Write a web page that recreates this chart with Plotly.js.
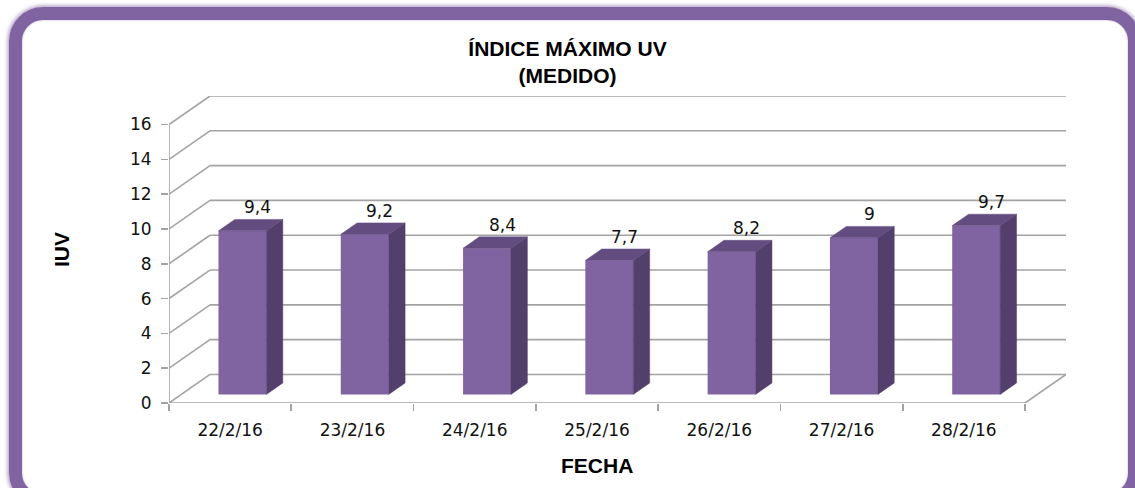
<!DOCTYPE html>
<html>
<head>
<meta charset="utf-8">
<script src="https://cdn.plot.ly/plotly-3.0.1.min.js"></script>
<style>
html, body { margin:0; padding:0; overflow:hidden; background:#ffffff; width:1135px; height:488px; }
#frame { position:absolute; left:9px; top:7px; width:1132px; height:500px; box-sizing:border-box;
  border:13px solid #8064A2; border-radius:34px;
  box-shadow:0 0 4px 1px rgba(128,100,162,0.75), inset 0 0 2px rgba(128,100,162,0.6); }
#chart { position:absolute; left:0; top:0; width:1135px; height:488px; }
</style>
</head>
<body>
<div id="frame"></div>
<div id="chart"></div>
<script>
// ---- data ----
const dates = ['22/2/16', '23/2/16', '24/2/16', '25/2/16', '26/2/16', '27/2/16', '28/2/16'];
const iuv = [9.4, 9.2, 8.4, 7.7, 8.2, 9, 9.7];
const yTicks = [0, 2, 4, 6, 8, 10, 12, 14, 16];
const chartTitle = 'ÍNDICE MÁXIMO UV<br>(MEDIDO)';
const yTitle = 'IUV';
const xTitle = 'FECHA';

// ---- 3D styling constants ----
const D = 0.335;   // depth along x (category units)
const H = 1.64;    // depth along y (value units)
const F1 = 0.3, F2 = 0.7; // bar front/back depth fractions
const W = 0.392;   // bar width
const gridColor = '#A3A3A3';
const frontColor = '#8064A2', sideColor = '#523F6B', topColor = '#634C80';
const tickFont = {family: 'DejaVu Sans', size: 17, color: '#111111'};
const boldFont = {family:'Liberation Sans', size:21, color:'#000000', weight:'bold'};

const idx = dates.map((_, i) => i);
const xL = -0.5, xR = dates.length - 0.5;
const yMax = yTicks[yTicks.length - 1];

// grid / walls as shapes below the data
const lineStyle = {color: gridColor, width: 1.6};
const shapes = [];
yTicks.forEach(v => {
  shapes.push({type:'line', xref:'x', yref:'y', layer:'below', x0:xL, y0:v, x1:xL + D, y1:v + H, line:lineStyle});
  shapes.push({type:'line', xref:'x', yref:'y', layer:'below', x0:xL + D, y0:v + H, x1:xR + D, y1:v + H, line:lineStyle});
});
shapes.push({type:'line', xref:'x', yref:'y', layer:'below', x0:xL, y0:0, x1:xR, y1:0, line:lineStyle});
shapes.push({type:'line', xref:'x', yref:'y', layer:'below', x0:xR, y0:0, x1:xR + D, y1:H, line:lineStyle});
shapes.push({type:'line', xref:'x', yref:'y', layer:'below', x0:xL, y0:0, x1:xL, y1:yMax, line:lineStyle});

// bar faces
const dD = (F2 - F1) * D, dH = (F2 - F1) * H;
const sideX = [], sideY = [], topX = [], topY = [];
idx.forEach(i => {
  const v = iuv[i];
  const xl = i + F1 * D - W / 2, xr = i + F1 * D + W / 2;
  const yb = F1 * H, yt = F1 * H + v;
  sideX.push(xr, xr + dD, xr + dD, xr, xr, null);
  sideY.push(yb, yb + dH, yt + dH, yt, yb, null);
  topX.push(xl, xr, xr + dD, xl + dD, xl, null);
  topY.push(yt, yt, yt + dH, yt + dH, yt, null);
});

const traces = [
  {type:'bar', x: idx.map(i => i + F1 * D), y: iuv, base: F1 * H, width: W,
   marker:{color: frontColor, line:{width:0}}, hoverinfo:'skip', showlegend:false},
  {type:'scatter', mode:'lines', x: sideX, y: sideY, fill:'toself', fillcolor: sideColor,
   line:{width:0.5, color: sideColor}, hoverinfo:'skip', showlegend:false},
  {type:'scatter', mode:'lines', x: topX, y: topY, fill:'toself', fillcolor: topColor,
   line:{width:0.5, color: topColor}, hoverinfo:'skip', showlegend:false}
];

const annotations = idx.map(i => ({
  x: i + 0.225, y: iuv[i] + F2 * H, xref:'x', yref:'y',
  text: String(iuv[i]).replace('.', ','), showarrow:false,
  yanchor:'bottom', xanchor:'center', font: tickFont
}));
annotations.push({
  x: (dates.length - 1) / 2, xref:'x', y: -(465 - 403) / (403 - 96), yref:'paper',
  yanchor:'middle', text: xTitle, showarrow:false, font: boldFont
});

const layout = {
  width: 1135, height: 488,
  margin: {l:169, r:69, t:96, b:85},
  paper_bgcolor: 'rgba(0,0,0,0)', plot_bgcolor: 'rgba(0,0,0,0)',
  showlegend: false,
  title: {text: chartTitle, x: 0.5, xref:'container', y: 1 - 56 / 488, yref:'container', yanchor:'middle',
          font: boldFont},
  xaxis: {range: [xL, xR + D], tickmode:'array', tickvals: idx, ticktext: dates,
          ticks:'outside', ticklen: 8, tickcolor:'rgba(0,0,0,0)', ticklabelstandoff: 4,
          minor: {tick0: -0.5, dtick: 1, ticks:'outside', ticklen: 7, tickwidth: 1.6, tickcolor: gridColor, showgrid:false},
          showline:false, showgrid:false, zeroline:false, fixedrange:true, tickfont: tickFont},
  yaxis: {range: [0, yMax + H], tickmode:'array', tickvals: yTicks,
          ticks:'outside', ticklen: 7, tickwidth: 1.6, tickcolor: gridColor, ticklabelstandoff: 6,
          showline:false, showgrid:false, zeroline:false, fixedrange:true, tickfont: tickFont,
          title: {text: yTitle, standoff: 54, font: boldFont}},
  shapes: shapes,
  annotations: annotations
};

Plotly.newPlot('chart', traces, layout, {displayModeBar:false, staticPlot:true});
</script>
</body>
</html>
